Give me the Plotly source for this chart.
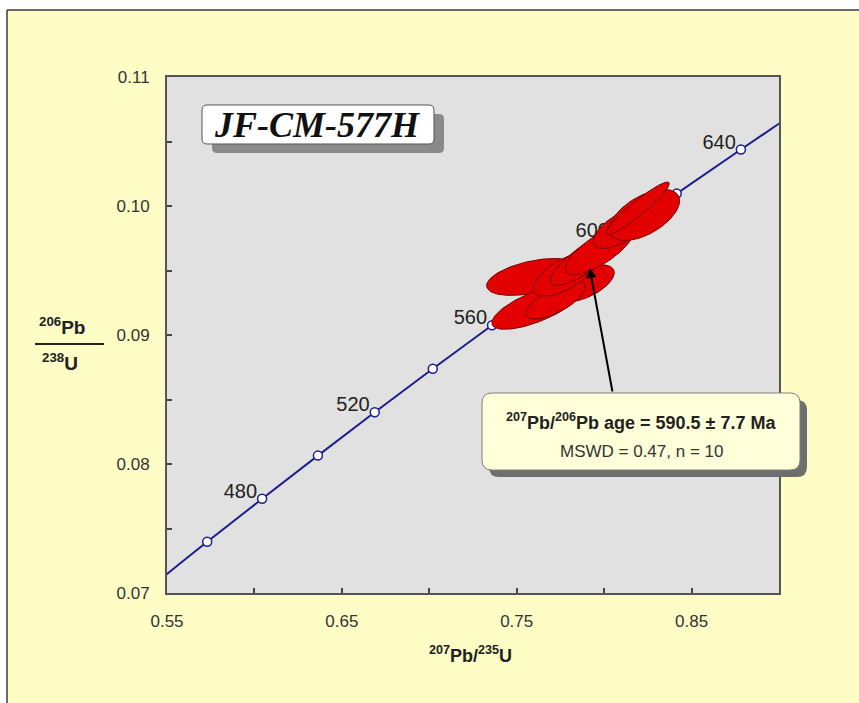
import numpy as np
import plotly.graph_objects as go

# Concordia reference points (age in Ma, 207Pb/235U, 206Pb/238U)
conc_age = [440, 460, 480, 500, 520, 540, 560, 580, 600, 620, 640, 660]
conc_x = [0.5424, 0.5730, 0.6044, 0.6363, 0.6688, 0.7020, 0.7359, 0.7704, 0.8056, 0.8415, 0.8782, 0.9155]
conc_y = [0.07064, 0.07397, 0.07730, 0.08065, 0.08401, 0.08738, 0.09076, 0.09414, 0.09754, 0.10096, 0.10438, 0.10781]
labelled_ages = [480, 520, 560, 600, 640]

# Zircon analyses: ratios, 2-sigma half widths and error correlation
ell_x = [0.7591, 0.7614, 0.7889, 0.7723, 0.7774, 0.7906, 0.7974, 0.8100, 0.8231, 0.8191]
ell_y = [0.0945, 0.0922, 0.0940, 0.0927, 0.0947, 0.0960, 0.0966, 0.0983, 0.0993, 0.0998]
ell_sx = [0.02634, 0.02563, 0.01691, 0.01696, 0.01784, 0.02149, 0.01966, 0.01607, 0.02005, 0.01817]
ell_sy = [0.00143, 0.00176, 0.00144, 0.00146, 0.00169, 0.00216, 0.00192, 0.00160, 0.00198, 0.00206]
ell_rho = [0.47, 0.71, 0.58, 0.70, 0.64, 0.83, 0.75, 0.64, 0.56, 0.94]

# Mean age pointer (tip, tail)
arrow_tip = (0.7917, 0.0952)
arrow_tail = (0.8049, 0.0855)

sample_name = "JF-CM-577H"
age_text = "<b><sup>207</sup>Pb/<sup>206</sup>Pb age = 590.5 ± 7.7 Ma</b>"
stats_text = "MSWD = 0.47, n = 10"

x_range = [0.55, 0.90]
y_range = [0.07, 0.11]

W, H = 859, 703
L, R, T, B = 167, 80, 77, 110
PW, PH = W - L - R, H - T - B

FONT = "Liberation Sans, Arial, sans-serif"
YELLOW = "#FFFDC6"
NAVY = "#1E1E8C"


def px(x, y):
    """Pixel position -> paper coordinates."""
    return (x - L) / PW, (H - B - y) / PH


def round_rect(x0, y0, x1, y1, r):
    """SVG path of a rounded rectangle given in pixels, expressed in paper units."""
    def P(x, y):
        a, b = px(x, y)
        return f"{a:.5f},{b:.5f}"
    return (f"M{P(x0 + r, y0)} L{P(x1 - r, y0)} Q{P(x1, y0)} {P(x1, y0 + r)} "
            f"L{P(x1, y1 - r)} Q{P(x1, y1)} {P(x1 - r, y1)} L{P(x0 + r, y1)} "
            f"Q{P(x0, y1)} {P(x0, y1 - r)} L{P(x0, y0 + r)} Q{P(x0, y0)} {P(x0 + r, y0)} Z")


fig = go.Figure()

# Concordia curve with age markers
in_range = [i for i, a in enumerate(conc_age) if 460 <= a <= 640]
fig.add_trace(go.Scatter(x=conc_x, y=conc_y, mode="lines",
                         line=dict(color=NAVY, width=2, shape="spline"),
                         hoverinfo="skip", showlegend=False))
fig.add_trace(go.Scatter(x=[conc_x[i] for i in in_range], y=[conc_y[i] for i in in_range],
                         mode="markers",
                         marker=dict(symbol="circle", size=9, color="white",
                                     line=dict(color=NAVY, width=1.5)),
                         showlegend=False))

# Age labels, nudged up-left of their markers
dx_lab = -5 / (PW / (x_range[1] - x_range[0]))
dy_lab = 6 / (PH / (y_range[1] - y_range[0]))
lab_idx = [conc_age.index(a) for a in labelled_ages]
fig.add_trace(go.Scatter(x=[conc_x[i] + dx_lab for i in lab_idx],
                         y=[conc_y[i] + dy_lab for i in lab_idx],
                         mode="text", text=[str(conc_age[i]) for i in lab_idx],
                         textposition="middle left",
                         textfont=dict(family=FONT, size=20, color="#222222"),
                         showlegend=False, hoverinfo="skip"))

# Error ellipses
t = np.linspace(0, 2 * np.pi, 120)
for cx, cy, sx, sy, rho in zip(ell_x, ell_y, ell_sx, ell_sy, ell_rho):
    ex = cx + sx * np.cos(t)
    ey = cy + sy * (rho * np.cos(t) + np.sqrt(1 - rho ** 2) * np.sin(t))
    fig.add_trace(go.Scatter(x=ex, y=ey, mode="lines", fill="toself",
                             fillcolor="#E20000",
                             line=dict(color="#7A0000", width=1),
                             hoverinfo="skip", showlegend=False))

shapes = []
# White margin and frame of the yellow panel
x0p, y0p = px(0, 0)
x1p, y1p = px(W, 10)
shapes.append(dict(type="rect", xref="paper", yref="paper", x0=x0p, y0=y0p, x1=x1p, y1=y1p,
                   fillcolor="white", line=dict(width=0)))
x1p, y1p = px(7, H)
shapes.append(dict(type="rect", xref="paper", yref="paper", x0=x0p, y0=y0p, x1=x1p, y1=y1p,
                   fillcolor="white", line=dict(width=0)))
a0 = px(7, 10)
a1 = px(W + 5, 10)
shapes.append(dict(type="line", xref="paper", yref="paper", x0=a0[0], y0=a0[1], x1=a1[0], y1=a1[1],
                   line=dict(color="#3a3a3a", width=1.5)))
a1 = px(7, H + 5)
shapes.append(dict(type="line", xref="paper", yref="paper", x0=a0[0], y0=a0[1], x1=a1[0], y1=a1[1],
                   line=dict(color="#3a3a3a", width=1.5)))

# Sample-name box with drop shadow
shapes.append(dict(type="path", xref="paper", yref="paper", path=round_rect(212, 114, 444, 153, 5),
                   fillcolor="#8A8A8A", line=dict(width=0), layer="above"))
shapes.append(dict(type="path", xref="paper", yref="paper", path=round_rect(202, 105, 434, 144, 5),
                   fillcolor="white", line=dict(color="#555555", width=1), layer="above"))

# Result box with drop shadow
shapes.append(dict(type="path", xref="paper", yref="paper", path=round_rect(489, 400, 807, 477, 10),
                   fillcolor="#6E6E6E", line=dict(width=0), layer="above"))
shapes.append(dict(type="path", xref="paper", yref="paper", path=round_rect(482, 393, 800, 470, 10),
                   fillcolor="#FFFFD9", line=dict(color="#808080", width=1), layer="above"))

# Fraction bar of the y-axis title
b0 = px(35, 344)
b1 = px(104, 344)
shapes.append(dict(type="line", xref="paper", yref="paper", x0=b0[0], y0=b0[1], x1=b1[0], y1=b1[1],
                   line=dict(color="#222222", width=2)))

annotations = []
# Pointer to the mean age
annotations.append(dict(x=arrow_tip[0], y=arrow_tip[1], ax=arrow_tail[0], ay=arrow_tail[1],
                        xref="x", yref="y", axref="x", ayref="y", text="", showarrow=True,
                        arrowhead=2, arrowsize=1, arrowwidth=2, arrowcolor="black"))


def label(text, x, y, size, family=FONT, color="#222222"):
    xp, yp = px(x, y)
    annotations.append(dict(text=text, x=xp, y=yp, xref="paper", yref="paper",
                            xanchor="center", yanchor="middle", showarrow=False,
                            font=dict(family=family, size=size, color=color)))


label(f"<b><i>{sample_name}</i></b>", 317, 125, 36, family="Liberation Serif, Times New Roman, serif",
      color="#111111")
label(age_text, 641, 421, 18)
label(stats_text, 641, 451, 17, color="#333333")
label("<b><sup>206</sup>Pb</b>", 62, 326, 19)
label("<b><sup>238</sup>U</b>", 60, 362, 19)
label("<b><sup>207</sup>Pb/<sup>235</sup>U</b>", 470, 654, 18)

axis_common = dict(showgrid=False, zeroline=False, showline=True, mirror=True,
                   linecolor="#555555", linewidth=2, ticks="inside", ticklen=5,
                   tickwidth=1.5, tickcolor="#444444",
                   tickfont=dict(family=FONT, size=17, color="#333333"))

fig.update_layout(
    width=W, height=H,
    margin=dict(l=L, r=R, t=T, b=B, pad=0),
    paper_bgcolor=YELLOW, plot_bgcolor="#E1E1E1",
    xaxis=dict(range=x_range, tick0=0.55, dtick=0.1, tickformat=".2f",
               ticklabelstandoff=12,
               minor=dict(ticks="inside", dtick=0.05, tick0=0.55, ticklen=5, tickcolor="#444444"),
               **axis_common),
    yaxis=dict(range=y_range, tick0=0.07, dtick=0.01, tickformat=".2f",
               ticklabelstandoff=12,
               minor=dict(ticks="inside", dtick=0.005, tick0=0.07, ticklen=5, tickcolor="#444444"),
               **axis_common),
    shapes=shapes, annotations=annotations, showlegend=False,
)

fig.write_html("out.html")
